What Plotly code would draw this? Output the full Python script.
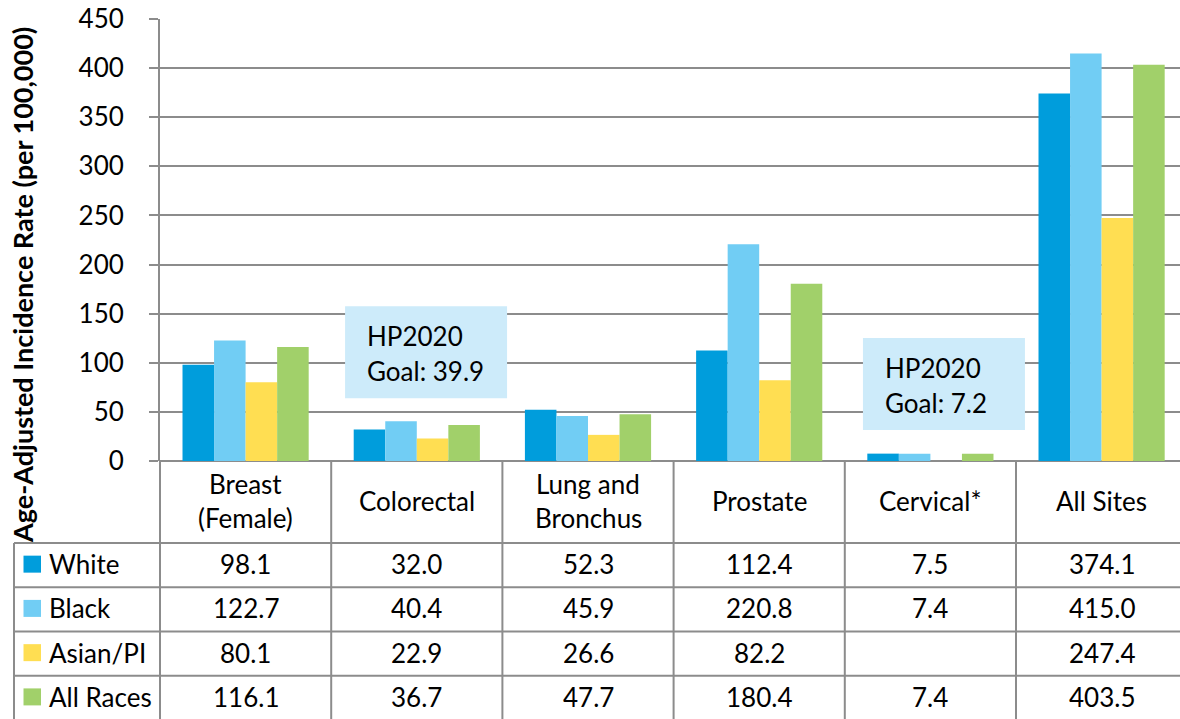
import plotly.graph_objects as go

# ---------------- data ----------------
categories = ["Breast (Female)", "Colorectal", "Lung and Bronchus", "Prostate", "Cervical*", "All Sites"]
category_lines = [["Breast", "(Female)"], ["Colorectal"], ["Lung and", "Bronchus"],
                  ["Prostate"], ["Cervical*"], ["All Sites"]]
series_names = ["White", "Black", "Asian/PI", "All Races"]
white = [98.1, 32.0, 52.3, 112.4, 7.5, 374.1]
black = [122.7, 40.4, 45.9, 220.8, 7.4, 415.0]
asian_pi = [80.1, 22.9, 26.6, 82.2, None, 247.4]
all_races = [116.1, 36.7, 47.7, 180.4, 7.4, 403.5]
series_values = [white, black, asian_pi, all_races]
y_ticks = [0, 50, 100, 150, 200, 250, 300, 350, 400, 450]
hp_goal_categories = ["Colorectal", "Cervical*"]
hp_goal_values = [39.9, 7.2]

# ---------------- style ----------------
colors = ["#009ddc", "#71cdf4", "#ffde52", "#a1d06a"]
FONT = "Lato, Open Sans, sans-serif"
FS = 26
GREY = "#8c8c8c"
W, H = 1180, 719
L, T, B = 160, 19, 258
PH = H - T - B            # plot height px
PW = W - L                # plot width px
CAT_PX = 171.2            # px per category
X_MAX = -0.5 + PW / CAT_PX
VPX = 450 / PH            # value units per px


def py(pix):
    """pixel y -> paper y"""
    return (H - B - pix) / PH


def px(pix):
    """pixel x -> paper x"""
    return (pix - L) / PW


x_idx = list(range(len(categories)))

fig = go.Figure()
for name, vals, col in zip(series_names, series_values, colors):
    fig.add_trace(go.Bar(x=x_idx, y=vals, name=name, marker_color=col,
                         marker_line_width=0, showlegend=False,
                         hovertext=categories))

shapes = []
ann = []

# table horizontal lines
row_edges = [543, 587.3, 631.5, 675.8, 720]
for r in row_edges:
    shapes.append(dict(type="line", xref="paper", yref="paper", x0=px(14), x1=1.05,
                       y0=py(r), y1=py(r), line=dict(color=GREY, width=2)))
# vertical lines
shapes.append(dict(type="line", xref="paper", yref="paper", x0=px(14), x1=px(14),
                   y0=py(543), y1=py(720), line=dict(color=GREY, width=2)))
shapes.append(dict(type="line", xref="paper", yref="paper", x0=0, x1=0,
                   y0=py(461), y1=py(720), line=dict(color=GREY, width=2)))
for i in range(len(categories)):
    shapes.append(dict(type="line", xref="x", yref="paper", x0=i + 0.5, x1=i + 0.5,
                       y0=py(461), y1=py(720), line=dict(color=GREY, width=2)))

# header text
for i, lines in enumerate(category_lines):
    if len(lines) == 2:
        ys = [484, 518]
    else:
        ys = [501]
    for t, yy in zip(lines, ys):
        ann.append(dict(x=i, y=py(yy), xref="x", yref="paper", text=t, showarrow=False,
                        xanchor="center", yanchor="middle",
                        font=dict(family=FONT, size=FS, color="black")))

# rows
row_centers = [(row_edges[k] + row_edges[k + 1]) / 2 for k in range(4)]
for k, (name, vals, col) in enumerate(zip(series_names, series_values, colors)):
    yc = row_centers[k] - 1
    shapes.append(dict(type="rect", xref="paper", yref="paper",
                       x0=px(23.5), x1=px(41), y0=py(yc - 8.5), y1=py(yc + 8.5),
                       fillcolor=col, line=dict(width=0)))
    ann.append(dict(x=px(47), y=py(yc), xref="paper", yref="paper", text=name,
                    showarrow=False, xanchor="left", yanchor="middle",
                    font=dict(family=FONT, size=FS, color="black")))
    for i, v in enumerate(vals):
        if v is None:
            continue
        ann.append(dict(x=i, y=py(yc), xref="x", yref="paper", text=f"{v:.1f}",
                        showarrow=False, xanchor="center", yanchor="middle",
                        font=dict(family=FONT, size=FS, color="black")))

# HP2020 goal boxes
box_bottoms = [64.0, 31.6]
box_left_off = [-0.419, -0.394]
for cat, goal, bb, lo in zip(hp_goal_categories, hp_goal_values, box_bottoms, box_left_off):
    i = categories.index(cat)
    x0 = i + lo
    x1 = x0 + 162 / CAT_PX
    y1 = bb + 92 * VPX
    shapes.append(dict(type="rect", xref="x", yref="y", x0=x0, x1=x1, y0=bb, y1=y1,
                       fillcolor="#cdebfa", line=dict(width=0), layer="above"))
    tx = x0 + 20 / CAT_PX
    ann.append(dict(x=tx, y=y1 - 30 * VPX, xref="x", yref="y", text="HP2020",
                    showarrow=False, xanchor="left", yanchor="middle",
                    font=dict(family=FONT, size=FS, color="black")))
    ann.append(dict(x=tx, y=y1 - 65 * VPX, xref="x", yref="y", text=f"Goal: {goal}",
                    showarrow=False, xanchor="left", yanchor="middle",
                    font=dict(family=FONT, size=FS, color="black")))

# y title
ann.append(dict(x=px(22), y=py(285), xref="paper", yref="paper",
                text="<b>Age-Adjusted Incidence Rate (per 100,000)</b>", textangle=-90,
                showarrow=False, xanchor="center", yanchor="middle",
                font=dict(family=FONT, size=27, color="black")))

fig.update_layout(
    width=W, height=H, autosize=False,
    margin=dict(l=L, r=0, t=T, b=B, pad=0),
    paper_bgcolor="white", plot_bgcolor="white",
    barmode="group", bargap=0.263, bargroupgap=0,
    shapes=shapes, annotations=ann,
    xaxis=dict(type="linear", range=[-0.5, X_MAX], showticklabels=False, showgrid=False,
               zeroline=False, showline=False, ticks=""),
    yaxis=dict(range=[0, 450], tickvals=y_ticks, ticks="outside", ticklen=9,
               tickcolor=GREY, tickwidth=2, showline=True, linecolor=GREY, linewidth=2,
               showgrid=True, gridcolor=GREY, gridwidth=2, zeroline=True,
               zerolinecolor=GREY, zerolinewidth=2, ticklabelstandoff=20,
               tickfont=dict(family=FONT, size=FS, color="black")),
)

fig.write_html("out.html", config={"displayModeBar": False},
               post_script="document.body.style.margin='0';document.body.style.overflow='hidden';")
